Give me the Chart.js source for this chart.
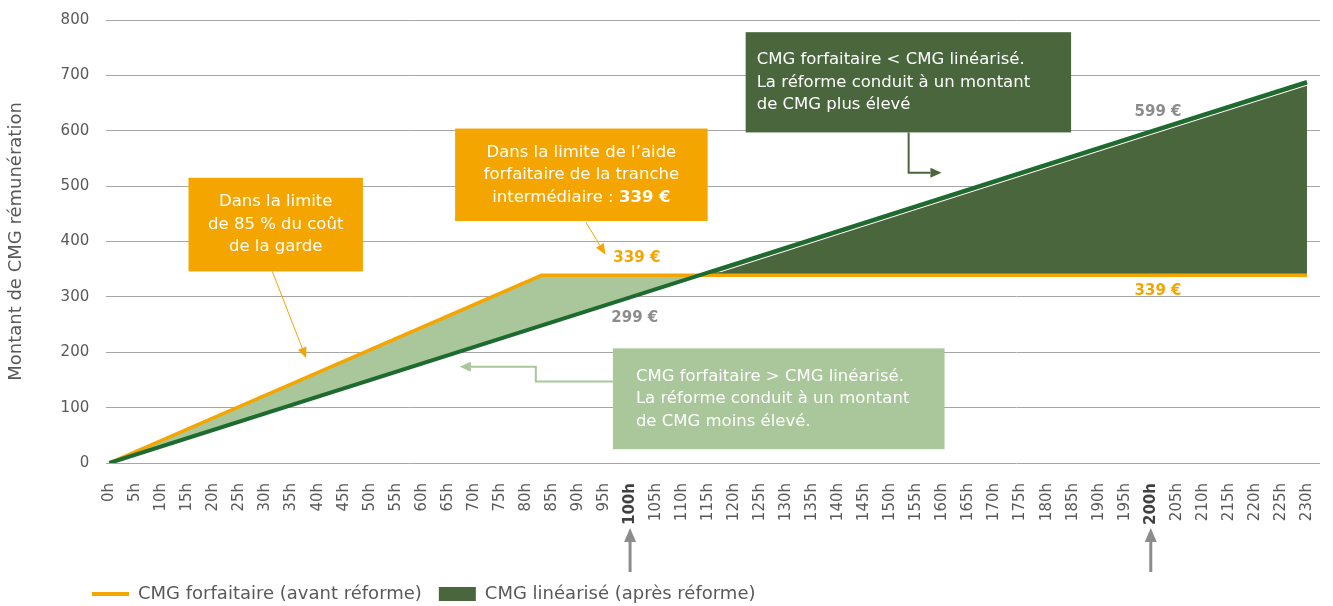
<!DOCTYPE html>
<html lang="fr">
<head>
<meta charset="utf-8">
<title>CMG forfaitaire / CMG linéarisé</title>
<script src="https://cdn.jsdelivr.net/npm/chart.js@4.4.1/dist/chart.umd.min.js"></script>
<style>
  html, body { margin: 0; padding: 0; background: #fff; }
  #wrap { width: 1333px; height: 606px; }
</style>
</head>
<body>
<div id="wrap"><canvas id="chart"></canvas></div>
<script>
// Données
const hourTicks = [0, 5, 10, 15, 20, 25, 30, 35, 40, 45, 50, 55, 60, 65, 70, 75, 80, 85, 90, 95,
    100, 105, 110, 115, 120, 125, 130, 135, 140, 145, 150, 155, 160, 165, 170, 175, 180, 185,
    190, 195, 200, 205, 210, 215, 220, 225, 230];
const boldTicks = [100, 200];

// CMG forfaitaire (avant réforme)
const forfaitHours = [0, 83, 230];
const forfaitValues = [0, 339, 339];

// CMG linéarisé (après réforme)
const lineaireHours = [0, 100, 200, 230];
const lineaireValues = [0, 299, 599, 688];

const ORANGE = '#f5a500';
const GREEN_LINE = '#1e6b30';
const DARK_FILL = '#4a663d';
const LIGHT_FILL = '#a9c79a';
const GREY_TXT = '#595959';
const FONT = 'DejaVu Sans';
const NOTE_SIZE = 16.5;

function toPoints(xs, ys) {
    return xs.map((h, i) => ({ x: h, y: ys[i] }));
}

function isBold(ctx) {
    return !!(ctx && ctx.tick && boldTicks.includes(ctx.tick.value));
}

// Place la légende comme dans l'original (en bas à gauche)
const legendShift = {
    id: 'legendShift',
    afterLayout(chart) {
        const lg = chart.legend;
        const h = lg.bottom - lg.top;
        lg.left = 75;
        lg.top = 568;
        lg.bottom = lg.top + h;
    }
};

// Liseré blanc entre la ligne verte et la zone foncée (comme dans l'original)
const whiteEdge = {
    id: 'whiteEdge',
    beforeDatasetsDraw(chart) {
        const ctx = chart.ctx;
        const pts = chart.getDatasetMeta(0).data;
        const area = chart.chartArea;
        const limit = chart.scales.y.getPixelForValue(forfaitValues[forfaitValues.length - 1]) - 3;
        ctx.save();
        ctx.beginPath();
        ctx.rect(area.left, area.top, area.right - area.left, limit - area.top);
        ctx.clip();
        ctx.strokeStyle = '#ffffff';
        ctx.lineWidth = 1;
        ctx.beginPath();
        pts.forEach((p, i) => {
            if (i === 0) ctx.moveTo(p.x, p.y + 3.2);
            else ctx.lineTo(p.x, p.y + 3.2);
        });
        ctx.stroke();
        ctx.restore();
    }
};

// Encadrés, flèches et étiquettes
const notes = {
    id: 'notes',
    afterDatasetsDraw(chart) {
        const ctx = chart.ctx;
        const x = chart.scales.x, y = chart.scales.y;
        const px = h => x.getPixelForValue(h);
        const py = v => y.getPixelForValue(v);

        function box(h0, v0, h1, v1, color) {
            ctx.fillStyle = color;
            const l = px(h0), t = py(v0);
            ctx.fillRect(l, t, px(h1) - l, py(v1) - t);
            return { l: l, t: t, r: px(h1), b: py(v1) };
        }

        function lines(b, rows, align, padLeft) {
            const lh = 22.5;
            const mid = (b.t + b.b) / 2;
            ctx.textBaseline = 'middle';
            rows.forEach((row, i) => {
                const cy = mid + (i - (rows.length - 1) / 2) * lh;
                // row = liste de morceaux [texte, gras]
                let total = 0;
                row.forEach(part => {
                    ctx.font = (part[1] ? 'bold ' : '') + NOTE_SIZE + 'px "' + FONT + '"';
                    total += ctx.measureText(part[0]).width;
                });
                let cx = align === 'center' ? (b.l + b.r) / 2 - total / 2 : b.l + padLeft;
                ctx.textAlign = 'left';
                row.forEach(part => {
                    ctx.font = (part[1] ? 'bold ' : '') + NOTE_SIZE + 'px "' + FONT + '"';
                    ctx.fillStyle = '#ffffff';
                    ctx.fillText(part[0], cx, cy);
                    cx += ctx.measureText(part[0]).width;
                });
            });
        }

        function arrow(pts, color, width, headLen, headW) {
            const n = pts.length;
            const [ex, ey] = pts[n - 1];
            const [sx, sy] = pts[n - 2];
            const ang = Math.atan2(ey - sy, ex - sx);
            const bx = ex - Math.cos(ang) * headLen;
            const by = ey - Math.sin(ang) * headLen;
            ctx.save();
            ctx.strokeStyle = color;
            ctx.lineWidth = width;
            ctx.beginPath();
            ctx.moveTo(pts[0][0], pts[0][1]);
            for (let i = 1; i < n - 1; i++) ctx.lineTo(pts[i][0], pts[i][1]);
            ctx.lineTo(bx, by);
            ctx.stroke();
            ctx.fillStyle = color;
            ctx.beginPath();
            ctx.moveTo(ex, ey);
            ctx.lineTo(bx + Math.sin(ang) * headW / 2, by - Math.cos(ang) * headW / 2);
            ctx.lineTo(bx - Math.sin(ang) * headW / 2, by + Math.cos(ang) * headW / 2);
            ctx.closePath();
            ctx.fill();
            ctx.restore();
        }

        function label(text, h, v, color) {
            ctx.font = 'bold 15px "' + FONT + '"';
            ctx.fillStyle = color;
            ctx.textAlign = 'center';
            ctx.textBaseline = 'middle';
            ctx.fillText(text, px(h), py(v));
        }

        ctx.save();

        // 85 % du coût
        const b1 = box(15.2, 515, 48.7, 346, ORANGE);
        lines(b1, [[['Dans la limite']], [['de 85 % du coût']], [['de la garde']]], 'center');
        arrow([[px(31.3), py(346)], [px(37.8), py(189)]], ORANGE, 1, 11, 9);

        // aide forfaitaire
        const b2 = box(66.4, 604, 114.9, 437, ORANGE);
        lines(b2, [[['Dans la limite de l\u2019aide']], [['forfaitaire de la tranche']],
            [['intermédiaire : '], ['339 €', true]]], 'center');
        arrow([[px(91.5), py(435)], [px(95.3), py(376)]], ORANGE, 1, 11, 9);

        // CMG forfaitaire < CMG linéarisé
        const b3 = box(122.2, 778, 184.7, 597, DARK_FILL);
        lines(b3, [[['CMG forfaitaire < CMG linéarisé.']], [['La réforme conduit à un montant']],
            [['de CMG plus élevé']]], 'left', 11);
        arrow([[px(153.5), b3.b], [px(153.5), py(524)], [px(159.8), py(524)]], DARK_FILL, 2, 11, 10);

        // CMG forfaitaire > CMG linéarisé
        const b4 = box(96.7, 207, 160.4, 25, LIGHT_FILL);
        lines(b4, [[['CMG forfaitaire > CMG linéarisé.']], [['La réforme conduit à un montant']],
            [['de CMG moins élevé.']]], 'left', 23);
        arrow([[b4.l, py(147)], [px(81.9), py(147)], [px(81.9), py(174)], [px(67.3), py(174)]],
            LIGHT_FILL, 2, 11, 10);

        // montants
        label('339 €', 101.3, 370, ORANGE);
        label('299 €', 100.9, 261, '#8c8c8c');
        label('599 €', 201.4, 633, '#8c8c8c');
        label('339 €', 201.4, 310, ORANGE);

        // flèches sous l'axe : 100h et 200h
        boldTicks.forEach(h => {
            arrow([[px(h), 572], [px(h), 528]], '#8c8c8c', 3, 14, 12);
        });

        ctx.restore();
    }
};

const chart = new Chart(document.getElementById('chart'), {
    type: 'line',
    data: {
        datasets: [{
            label: 'CMG linéarisé (après réforme)',
            data: toPoints(lineaireHours, lineaireValues),
            borderColor: GREEN_LINE,
            borderWidth: 4,
            pointRadius: 0,
            tension: 0,
            fill: { target: 1, above: DARK_FILL, below: LIGHT_FILL }
        }, {
            label: 'CMG forfaitaire (avant réforme)',
            data: toPoints(forfaitHours, forfaitValues),
            borderColor: ORANGE,
            borderWidth: 3.5,
            pointRadius: 0,
            tension: 0,
            fill: false
        }]
    },
    options: {
        responsive: true,
        maintainAspectRatio: false,
        animation: false,
        layout: { padding: { top: 6, right: 6, left: 4, bottom: 4 } },
        scales: {
            x: {
                type: 'linear',
                min: -0.6,
                max: 232.5,
                afterBuildTicks: scale => {
                    scale.ticks = hourTicks.map(v => ({ value: v }));
                },
                afterFit: scale => {
                    scale.height += 12;
                    scale.paddingLeft = 0;
                    scale.paddingRight = 13;
                },
                grid: { display: false, drawTicks: false },
                border: { display: false },
                ticks: {
                    autoSkip: false,
                    minRotation: 90,
                    maxRotation: 90,
                    padding: 20,
                    color: ctx => isBold(ctx) ? '#404040' : GREY_TXT,
                    font: ctx => ({
                        family: FONT,
                        size: 15,
                        weight: isBold(ctx) ? 'bold' : 'normal'
                    }),
                    callback: v => v + 'h'
                }
            },
            y: {
                min: 0,
                max: 800,
                afterFit: scale => {
                    scale.paddingTop = 20;
                },
                grid: { color: '#a6a6a6', lineWidth: 1, drawTicks: false },
                border: { display: false },
                ticks: {
                    stepSize: 100,
                    padding: 17,
                    color: GREY_TXT,
                    font: { family: FONT, size: 15 }
                },
                title: {
                    display: true,
                    text: 'Montant de CMG rémunération',
                    color: GREY_TXT,
                    font: { family: FONT, size: 18 },
                    padding: { top: 2, bottom: 16 }
                }
            }
        },
        plugins: {
            filler: { drawTime: 'beforeDatasetsDraw' },
            tooltip: { enabled: false },
            legend: {
                position: 'bottom',
                align: 'start',
                labels: {
                    usePointStyle: true,
                    pointStyleWidth: 37,
                    boxHeight: 14,
                    padding: 17,
                    color: GREY_TXT,
                    font: { family: FONT, size: 18 },
                    generateLabels: () => [{
                        text: 'CMG forfaitaire (avant réforme)',
                        fillStyle: ORANGE,
                        strokeStyle: ORANGE,
                        lineWidth: 4,
                        pointStyle: 'line',
                        fontColor: GREY_TXT,
                        datasetIndex: 1
                    }, {
                        text: 'CMG linéarisé (après réforme)',
                        fillStyle: DARK_FILL,
                        strokeStyle: DARK_FILL,
                        lineWidth: 0,
                        pointStyle: 'rect',
                        fontColor: GREY_TXT,
                        datasetIndex: 0
                    }]
                }
            }
        }
    },
    plugins: [legendShift, whiteEdge, notes]
});
</script>
</body>
</html>
